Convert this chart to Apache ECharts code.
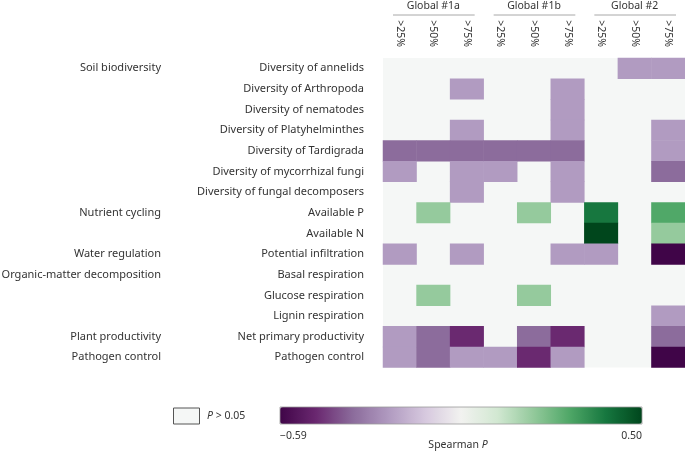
<!DOCTYPE html>
<html><head><meta charset="utf-8">
<script src="https://cdn.jsdelivr.net/npm/echarts@6/dist/echarts.min.js"></script>
<style>html,body{margin:0;padding:0;background:#fff}#c{width:685px;height:451px}</style>
</head><body><div id="c"></div>
<script>
// ---- data ----
const rows = ['Diversity of annelids','Diversity of Arthropoda','Diversity of nematodes','Diversity of Platyhelminthes','Diversity of Tardigrada','Diversity of mycorrhizal fungi','Diversity of fungal decomposers','Available P','Available N','Potential infiltration','Basal respiration','Glucose respiration','Lignin respiration','Net primary productivity','Pathogen control'];
const groupLabels = ['Soil biodiversity','','','','','','','Nutrient cycling','','Water regulation','Organic-matter decomposition','','','Plant productivity','Pathogen control'];
const colLabels = ['>25%','>50%','>75%','>25%','>50%','>75%','>25%','>50%','>75%'];
const colGroups = ['Global #1a','Global #1b','Global #2'];
const n = null;
// Spearman values per column group: [>25%, >50%, >75%] for each row (null = P > 0.05)
const global1a = [
  [n,n,n],[n,n,-0.26],[n,n,n],[n,n,-0.26],[-0.37,-0.37,-0.37],[-0.26,n,-0.26],[n,n,-0.26],
  [n,0.17,n],[n,n,n],[-0.26,n,-0.26],[n,n,n],[n,0.17,n],[n,n,n],[-0.26,-0.37,-0.48],[-0.26,-0.37,-0.26]];
const global1b = [
  [n,n,n],[n,n,-0.26],[n,n,-0.26],[n,n,-0.26],[-0.37,-0.37,-0.37],[-0.26,n,-0.26],[n,n,-0.26],
  [n,0.17,n],[n,n,n],[n,n,-0.26],[n,n,n],[n,0.17,n],[n,n,n],[n,-0.37,-0.48],[-0.26,-0.48,-0.26]];
const global2 = [
  [n,-0.26,-0.26],[n,n,n],[n,n,n],[n,n,-0.26],[n,n,-0.26],[n,n,-0.37],[n,n,n],
  [0.39,n,0.28],[0.50,n,0.17],[-0.26,n,-0.59],[n,n,n],[n,n,n],[n,n,-0.26],[n,n,-0.37],[n,n,-0.59]];
const scaleMin = -0.59, scaleMax = 0.50;
const scaleColors = ['#400548','#6a2870','#8b6b9b','#b09ac0','#d6c8de','#f2f2f0','#d2e8d2','#93c99b','#4fa767','#16773f','#00461c'];

// ---- build ----
const blocks = [global1a, global1b, global2];
const cells = [];
blocks.forEach((b, gi) => b.forEach((r, ri) => r.forEach((v, ci) => {
  if (v !== null) cells.push([gi * 3 + ci, ri, v]);
})));
const FONT = 'Noto Sans';
const TXT = '#333333';
const chart = echarts.init(document.getElementById('c'), null, {renderer: 'canvas'});
const option = {
  backgroundColor: '#ffffff',
  animation: false,
  textStyle: {fontFamily: FONT},
  grid: {left: 383, right: 0, top: 58, height: 309.6, show: true, backgroundColor: '#f5f7f6', borderWidth: 0,
    containLabel: false, outerBoundsMode: 'none'},
  xAxis: {type: 'category', position: 'top', data: colLabels,
    axisLine: {show: false}, axisTick: {show: false}, splitLine: {show: false},
    axisLabel: {rotate: 90, margin: 11, fontSize: 10.5, color: TXT, fontFamily: FONT}},
  yAxis: [
    {type: 'category', inverse: true, data: rows,
      axisLine: {show: false}, axisTick: {show: false}, splitLine: {show: false},
      axisLabel: {margin: 19, fontSize: 11, color: TXT, fontFamily: FONT}},
    {type: 'category', inverse: true, data: rows, position: 'left', offset: 203,
      axisLine: {show: false}, axisTick: {show: false}, splitLine: {show: false},
      axisLabel: {margin: 19, fontSize: 11, color: TXT, fontFamily: FONT,
        formatter: (v, i) => groupLabels[i]}}
  ],
  visualMap: {type: 'continuous', min: scaleMin, max: scaleMax, orient: 'horizontal',
    left: 280, top: 407, itemWidth: 17, itemHeight: 362, padding: 0, calculable: false,
    hoverLink: false, seriesIndex: 0, inRange: {color: scaleColors}},
  series: [{type: 'heatmap', data: cells, xAxisIndex: 0, yAxisIndex: 0,
    emphasis: {disabled: true}, itemStyle: {borderWidth: 0}}]
};
chart.setOption(option);

// annotations: column group headers and legend
const cx = i => chart.convertToPixel({xAxisIndex: 0}, i);
const bw = cx(1) - cx(0);
const g = [];
const richI = {i: {fontStyle: 'italic', fontSize: 10.5, fontFamily: FONT, fill: TXT}};
colGroups.forEach((name, gi) => {
  const x0 = cx(gi * 3) - bw / 2, x1 = cx(gi * 3 + 2) + bw / 2;
  const mid = (x0 + x1) / 2;
  g.push({type: 'text', x: mid, y: 6, style: {text: name, align: 'center', verticalAlign: 'middle', font: '10.5px "Noto Sans"', fill: TXT}});
  g.push({type: 'line', shape: {x1: x0 + 10, y1: 15, x2: x1 - 9, y2: 15}, style: {stroke: '#a8a8a8', lineWidth: 1}});
});
g.push({type: 'rect', shape: {x: 173.5, y: 408, width: 26, height: 16}, style: {fill: '#f5f7f6', stroke: '#555', lineWidth: 1}});
g.push({type: 'text', x: 207, y: 416, style: {text: '{i|P} > 0.05', verticalAlign: 'middle', font: '10.5px "Noto Sans"', fill: TXT, rich: richI}});
g.push({type: 'rect', shape: {x: 280, y: 407, width: 362, height: 17}, style: {fill: 'none', stroke: '#9a9a9a', lineWidth: 0.8}, z: 100});
g.push({type: 'text', x: 280, y: 436, style: {text: '\u22120.59', align: 'left', verticalAlign: 'middle', font: '10.5px "Noto Sans"', fill: TXT}});
g.push({type: 'text', x: 642, y: 436, style: {text: '0.50', align: 'right', verticalAlign: 'middle', font: '10.5px "Noto Sans"', fill: TXT}});
g.push({type: 'text', x: 458, y: 445, style: {text: 'Spearman {i|P}', align: 'center', verticalAlign: 'middle', font: '10.5px "Noto Sans"', fill: TXT, rich: richI}});
chart.setOption({graphic: g});
</script></body></html>
